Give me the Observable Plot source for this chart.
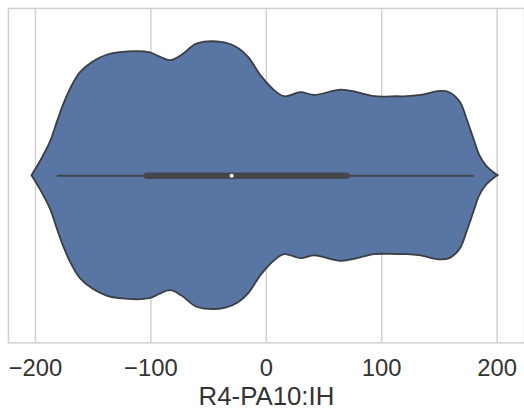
<!DOCTYPE html>
<html>
<head>
<meta charset="utf-8">
<script src="https://cdn.jsdelivr.net/npm/d3@7"></script>
<script src="https://cdn.jsdelivr.net/npm/@observablehq/plot@0.6"></script>
<style>
  html, body { margin: 0; padding: 0; background: #fff; }
  #wrap { width: 524px; height: 414px; overflow: hidden; }
</style>
</head>
<body>
<div id="wrap"></div>
<script>
// KDE outline: value along x, relative half-width (density)
const values = [-203, -196, -187, -181, -176, -170, -161, -150, -138, -127, -101, -93, -83, -73, -61, -50, -35, -24, -15, -4, 8, 16, 30, 42, 65, 79, 94, 114, 122, 134, 151, 159, 168, 174, 180, 185, 191, 199, 201];
const density = [0, 0.10, 0.25, 0.40, 0.52, 0.64, 0.77, 0.85, 0.90, 0.92, 0.92, 0.89, 0.86, 0.90, 0.98, 1.00, 0.99, 0.95, 0.88, 0.74, 0.63, 0.59, 0.62, 0.60, 0.64, 0.62, 0.59, 0.59, 0.59, 0.60, 0.63, 0.62, 0.55, 0.42, 0.27, 0.15, 0.07, 0.01, 0];
const whiskers = [-181, 180];
const quartiles = [-103, 70];
const median = -30;
const xTicks = [-200, -100, 0, 100, 200];
const xLabel = "R4-PA10:IH";

const violin = values.map((v, i) => ({v, d: density[i]}));
const font = "'Liberation Sans', Arial, Helvetica, sans-serif";

const chart = Plot.plot({
  width: 528,
  height: 414,
  marginLeft: 8,
  marginRight: 0,
  marginTop: 8,
  marginBottom: 69,
  style: {fontFamily: font, background: "#fff", color: "#333"},
  x: {domain: [-223.4, 223.7], ticks: xTicks},
  y: {domain: [-1.25, 1.25], axis: null},
  marks: [
    Plot.gridX(xTicks, {stroke: "#d0d0d0", strokeOpacity: 1, strokeWidth: 1.5}),
    Plot.frame({stroke: "#d0d0d0", strokeWidth: 1.5}),
    Plot.areaY(violin, {x: "v", y1: d => -d.d, y2: d => d.d, curve: "catmull-rom",
      fill: "#5975a4", stroke: "#3a3d42", strokeWidth: 1.8}),
    Plot.ruleY([whiskers], {y: 0, x1: d => d[0], x2: d => d[1], stroke: "#42454a", strokeWidth: 2}),
    Plot.ruleY([quartiles], {y: 0, x1: d => d[0], x2: d => d[1], stroke: "#44474c", strokeWidth: 6.5, strokeLinecap: "round"}),
    Plot.dot([median], {x: d => d, y: 0, r: 2, fill: "#fff", stroke: null}),
    Plot.axisX(xTicks, {tickSize: 0, tickPadding: 16, fontSize: 24, label: null, fill: "#333",
      tickFormat: d => d < 0 ? "\u2212" + Math.abs(d) : String(d)}),
    Plot.text([xLabel], {frameAnchor: "bottom", dy: 54.5, text: d => d, fontSize: 26, fill: "#333", lineAnchor: "middle"})
  ]
});
document.getElementById("wrap").appendChild(chart);
</script>
</body>
</html>
